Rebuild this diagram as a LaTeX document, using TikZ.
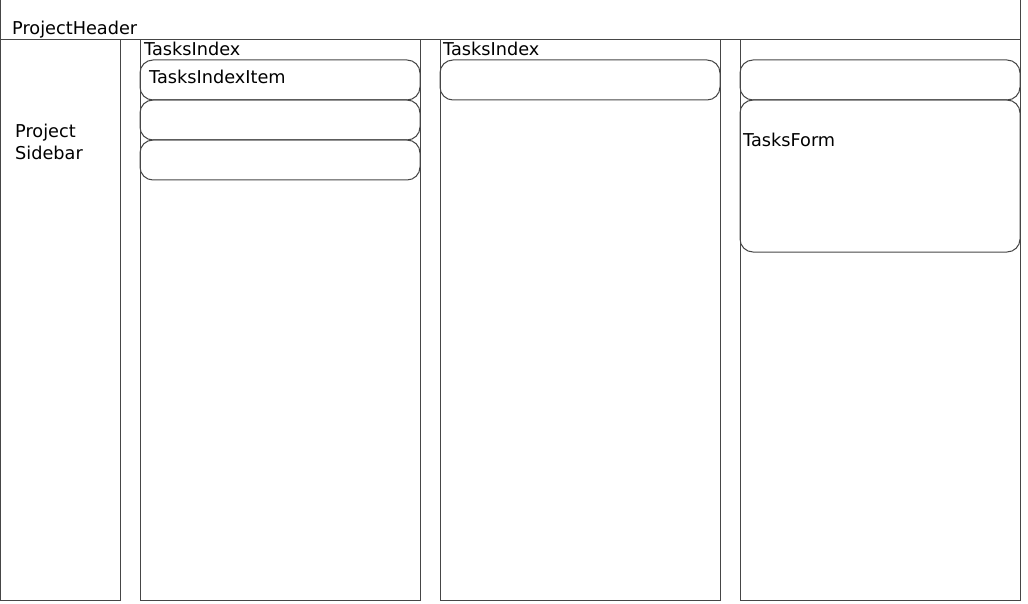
\documentclass[tikz,border=0pt]{standalone}
\usepackage{fontspec}
\setmainfont{DejaVu Sans}
\usetikzlibrary{positioning}
\definecolor{wireline}{HTML}{464646}
\tikzset{
  panel/.style={
    draw=wireline,
    line width=1pt,
    inner sep=0pt,
    outer sep=0pt,
    anchor=north west
  },
  column/.style={panel, minimum width=280pt, minimum height=560pt},
  itembox/.style={panel, rounded corners=13pt, minimum width=280pt, minimum height=40pt},
  caption/.style={anchor=base west, inner sep=0pt, align=left, text=black,
    font=\fontsize{17.7}{22}\selectfont}
}
\begin{document}
\begin{tikzpicture}[x=1pt, y=-1pt]
  \useasboundingbox (0,0) rectangle (1028,604);
  % frame
  \node[panel, minimum width=1020pt, minimum height=40pt] (header) at (0,0) {};
  \node[panel, minimum width=120pt, minimum height=560pt] (sidebar) at (0,40) {};
  \node[column] (index) at (140,40) {};
  \node[column] (indexmid) at (440,40) {};
  \node[column] (formcol) at (740,40) {};
  % items
  \node[itembox] (item) at (140,60) {};
  \node[itembox, below=0pt of item] (itemb) {};
  \node[itembox, below=0pt of itemb] (itemc) {};
  \node[itembox] (itemmid) at (440,60) {};
  \node[itembox] (itemform) at (740,60) {};
  \node[itembox, minimum height=152pt, below=0pt of itemform] (form) {};
  % labels
  \node[caption] (headertext) at (12,35) {ProjectHeader};
  \node[caption] (sidebartext) at (15,160) {Project\\Sidebar};
  \node[caption] (indextext) at (144,56) {TasksIndex};
  \node[caption] (itemtext) at (149,84) {TasksIndexItem};
  \node[caption] (indexmidtext) at (443,56) {TasksIndex};
  \node[caption] (formtext) at (743,147) {TasksForm};
\end{tikzpicture}
\end{document}
